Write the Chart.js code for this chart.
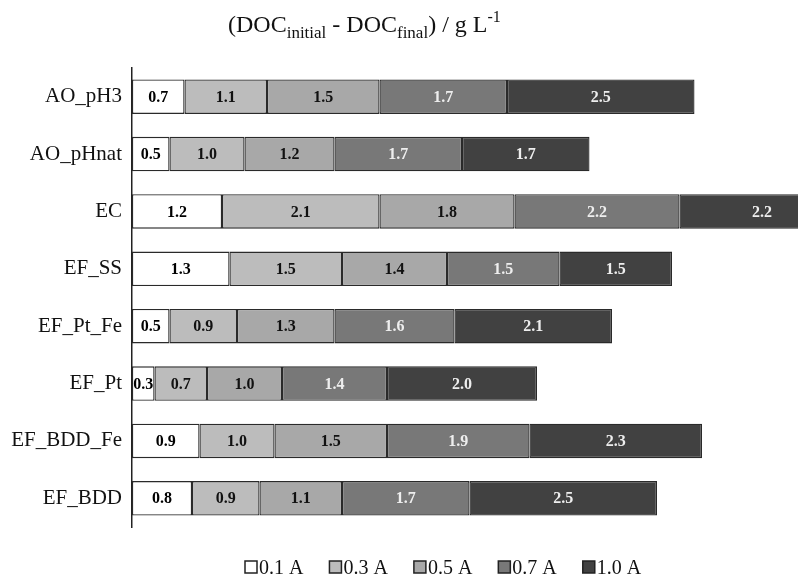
<!DOCTYPE html>
<html>
<head>
<meta charset="utf-8">
<script src="https://cdn.jsdelivr.net/npm/chart.js@4"></script>
<style>
  html, body { margin: 0; padding: 0; background: #fff; }
  #wrap { width: 798px; height: 575px; }
</style>
</head>
<body>
<div id="wrap"><canvas id="doc_chart"></canvas></div>
<script>
// categories (top to bottom) and removed DOC per current, g/L
const categories = ['AO_pH3', 'AO_pHnat', 'EC', 'EF_SS', 'EF_Pt_Fe', 'EF_Pt', 'EF_BDD_Fe', 'EF_BDD'];
const seriesNames = ['0.1 A', '0.3 A', '0.5 A', '0.7 A', '1.0 A'];
const current_01 = [0.7, 0.5, 1.2, 1.3, 0.5, 0.3, 0.9, 0.8];
const current_03 = [1.1, 1.0, 2.1, 1.5, 0.9, 0.7, 1.0, 0.9];
const current_05 = [1.5, 1.2, 1.8, 1.4, 1.3, 1.0, 1.5, 1.1];
const current_07 = [1.7, 1.7, 2.2, 1.5, 1.6, 1.4, 1.9, 1.7];
const current_10 = [2.5, 1.7, 2.2, 1.5, 2.1, 2.0, 2.3, 2.5];

const fills = ['#ffffff', '#bcbcbc', '#a8a8a8', '#787878', '#414141'];
const labelColors = ['#000000', '#111111', '#111111', '#eeeeee', '#eeeeee'];
const serif = '"Liberation Serif", "Times New Roman", serif';

const allSeries = [current_01, current_03, current_05, current_07, current_10];

// value labels, title with sub/superscripts, and the bottom legend
const extras = {
    id: 'extras',
    afterDatasetsDraw(chart) {
        const ctx = chart.ctx;
        ctx.save();
        ctx.font = 'bold 16px ' + serif;
        ctx.textAlign = 'center';
        ctx.textBaseline = 'middle';
        chart.data.datasets.forEach((ds, i) => {
            chart.getDatasetMeta(i).data.forEach((bar, j) => {
                ctx.fillStyle = labelColors[i];
                ctx.fillText(ds.data[j].toFixed(1), (bar.x + bar.base) / 2, bar.y + 1);
            });
        });
        ctx.restore();
    },
    afterDraw(chart) {
        const ctx = chart.ctx;
        ctx.save();
        ctx.fillStyle = '#111';
        ctx.textBaseline = 'alphabetic';
        // title
        const parts = [
            ['(DOC', 24, 0], ['initial', 17, 6], [' - DOC', 24, 0], ['final', 17, 6],
            [') / g L', 24, 0], ['-1', 16, -10]
        ];
        let x = 228;
        const base = 32;
        parts.forEach(p => {
            ctx.font = p[1] + 'px ' + serif;
            ctx.textAlign = 'left';
            ctx.fillText(p[0], x, base + p[2]);
            x += ctx.measureText(p[0]).width;
        });
        // legend
        ctx.font = '20px ' + serif;
        let lx = 245;
        const ly = 567;
        chart.data.datasets.forEach((ds, i) => {
            ctx.fillStyle = ds.backgroundColor;
            ctx.strokeStyle = '#222';
            ctx.lineWidth = 1.5;
            ctx.fillRect(lx, ly - 6, 12, 12);
            ctx.strokeRect(lx, ly - 6, 12, 12);
            ctx.fillStyle = '#111';
            ctx.textAlign = 'left';
            ctx.fillText(ds.label, lx + 14, ly + 7);
            lx += 14 + ctx.measureText(ds.label).width + 26;
        });
        ctx.restore();
    }
};

new Chart(document.getElementById('doc_chart'), {
    type: 'bar',
    data: {
        labels: categories,
        datasets: allSeries.map((vals, i) => ({
            label: seriesNames[i],
            data: vals,
            backgroundColor: fills[i],
            borderColor: '#2a2a2a',
            borderWidth: 1.3,
            borderSkipped: false,
            barPercentage: 0.6,
            categoryPercentage: 1
        }))
    },
    options: {
        indexAxis: 'y',
        responsive: true,
        maintainAspectRatio: false,
        animation: false,
        layout: { padding: { top: 68, bottom: 48, left: 0, right: 0 } },
        plugins: {
            legend: { display: false },
            title: { display: false },
            tooltip: { enabled: false }
        },
        scales: {
            x: { stacked: true, display: false, min: 0, max: 8.88 },
            y: {
                stacked: true,
                grid: { display: false, drawTicks: false },
                border: { display: true, color: '#222', width: 1.5 },
                ticks: { color: '#111', padding: 10, font: { family: serif, size: 21 } },
                afterFit: (scale) => { scale.width = 132; }
            }
        }
    },
    plugins: [extras]
});
</script>
</body>
</html>
